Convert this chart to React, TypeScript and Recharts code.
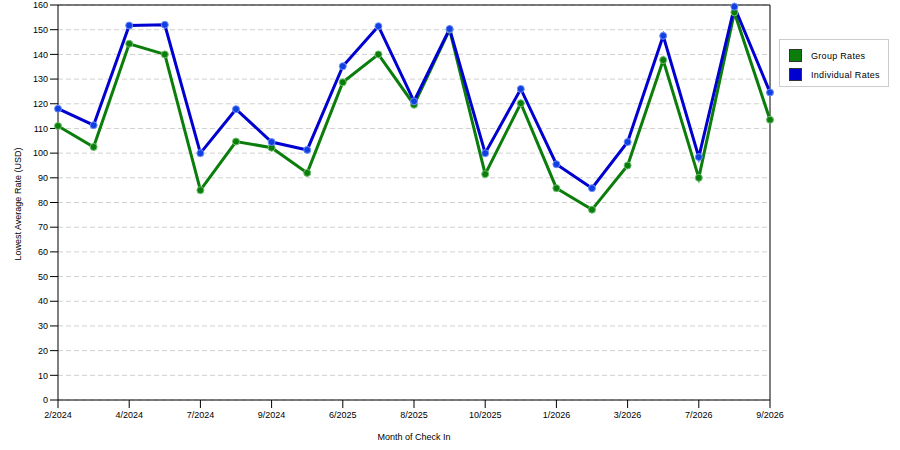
import React from 'react';
import { LineChart, Line, XAxis, YAxis, CartesianGrid, ReferenceLine } from 'recharts';

const months = [
  '2/2024', '3/2024', '4/2024', '6/2024', '7/2024', '8/2024', '9/2024', '10/2024',
  '6/2025', '7/2025', '8/2025', '9/2025', '10/2025', '11/2025', '1/2026', '2/2026',
  '3/2026', '5/2026', '7/2026', '8/2026', '9/2026',
];

const groupRates = [
  111, 102.5, 144.3, 140, 85, 104.7, 102.2, 92, 128.7, 140, 119.6, 150,
  91.5, 120.2, 85.8, 77.1, 95, 137.7, 90, 157, 113.5,
];

const individualRates = [
  118, 111.3, 151.7, 152, 100, 117.8, 104.5, 101.3, 135.2, 151.4, 121, 150.3,
  100, 126, 95.5, 85.8, 104.5, 147.5, 98.4, 159.3, 124.6,
];

const yTicks = [0, 10, 20, 30, 40, 50, 60, 70, 80, 90, 100, 110, 120, 130, 140, 150, 160];

const data = months.map((m, i) => ({
  month: m,
  group: groupRates[i],
  individual: individualRates[i],
}));

const FONT = '"Liberation Sans", Arial, sans-serif';

const GREEN = '#0a7d0a';
const BLUE = '#0000d0';

const legendItems = [
  { label: 'Group Rates', color: GREEN },
  { label: 'Individual Rates', color: BLUE },
];

// legend drawn as a plain box so it does not take space from the plot
const LegendBox = () => (
  <div
    style={{
      position: 'absolute',
      left: 779,
      top: 39,
      border: '1px solid #cccccc',
      background: '#fff',
      width: 110,
      height: 48,
      boxSizing: 'border-box',
      fontFamily: FONT,
      fontSize: 9,
      color: '#000',
      paddingTop: 6,
      paddingLeft: 9,
    }}
  >
    {legendItems.map((item) => (
      <div key={item.label} style={{ display: 'flex', alignItems: 'center', height: 19 }}>
        <span
          style={{
            display: 'inline-block',
            width: 13,
            height: 13,
            background: item.color,
            border: '1px solid #333',
            boxSizing: 'border-box',
            marginRight: 9,
          }}
        />
        <span style={{ letterSpacing: 0.3 }}>{item.label}</span>
      </div>
    ))}
  </div>
);

const App = () => {
  return (
    <div style={{ position: 'absolute', left: 0, top: 0, width: 900, height: 450, background: '#fff' }}>
      <LineChart
        width={900}
        height={450}
        data={data}
        margin={{ top: 5, right: 130, bottom: 10, left: 0 }}
      >
        <CartesianGrid vertical={false} stroke="#d0d0d0" strokeDasharray="5 3" />
        <XAxis
          dataKey="month"
          interval={1}
          stroke="#000"
          height={40}
          tickSize={8}
          tick={{ fontSize: 9, fontFamily: FONT, fill: '#000', dy: 2 }}
          label={{ value: 'Month of Check In', position: 'insideBottom', offset: 0, fontSize: 9, fontFamily: FONT, fill: '#000' }}
        />
        <YAxis
          domain={[0, 160]}
          ticks={yTicks}
          interval={0}
          width={58}
          stroke="#000"
          tickSize={8}
          tick={{ fontSize: 9, fontFamily: FONT, fill: '#000' }}
          label={{ value: 'Lowest Average Rate (USD)', angle: -90, position: 'insideLeft', offset: 18, fontSize: 9, fontFamily: FONT, fill: '#000', dy: 58 }}
        />
        <ReferenceLine y={160} stroke="#000" />
        <ReferenceLine x="9/2026" stroke="#000" />
        <Line
          type="linear"
          dataKey="group"
          name="Group Rates"
          stroke={GREEN}
          strokeWidth={3}
          dot={{ r: 3.5, fill: GREEN, stroke: '#6fbf6f', strokeWidth: 1 }}
          isAnimationActive={false}
        />
        <Line
          type="linear"
          dataKey="individual"
          name="Individual Rates"
          stroke={BLUE}
          strokeWidth={3}
          dot={{ r: 3.5, fill: '#1040e0', stroke: '#6f8fff', strokeWidth: 1 }}
          isAnimationActive={false}
        />
      </LineChart>
      <LegendBox />
    </div>
  );
};

export default App;
